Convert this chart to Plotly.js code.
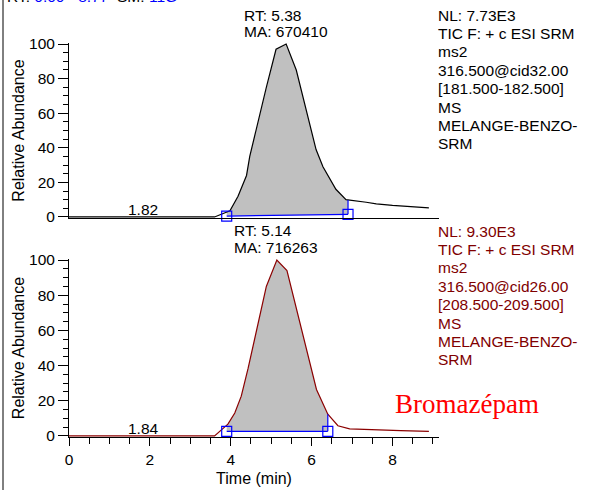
<!DOCTYPE html>
<html>
<head>
<meta charset="utf-8">
<script src="https://cdn.plot.ly/plotly-3.0.1.min.js"></script>
<style>html,body{margin:0;padding:0;background:#fff;}#chart{width:593px;height:490px;}</style>
</head>
<body>
<div id="chart"></div>
<script>
// ---------- data ----------
const timesTop = [0, 3.6, 3.98, 4.18, 4.39, 4.47, 4.88, 5.12, 5.37, 5.62, 6.11, 6.28, 6.6, 6.85, 7.35, 7.6, 8.0, 8.5, 8.9];
const abundTop = [0, 0, 3.6, 12, 24, 35, 75, 97, 100, 85, 39, 29, 16, 10, 8.5, 7.6, 6.7, 6.0, 5.3];
const timesBot = [0, 3.6, 3.93, 4.1, 4.26, 4.43, 4.88, 5.14, 5.39, 5.64, 5.91, 6.12, 6.4, 6.65, 6.94, 7.51, 8.2, 8.9];
const abundBot = [0, 0, 6.7, 13, 22.6, 38.5, 85, 100, 94, 71, 45, 26.4, 12.4, 5.8, 4.0, 3.4, 3.0, 2.6];

const peakBoundsTop = [3.9, 6.9];
const baselineTop = [0.5, 1.5];
const peakBoundsBot = [3.9, 6.4];
const baselineBot = [2.6, 2.6];

const rtTop = 5.38, maTop = 670410, minorRtTop = 1.82;
const rtBot = 5.14, maBot = 716263, minorRtBot = 1.84;

const headerParts = ['RT:', '0.00 - 8.77', 'SM:', '11G'];
const infoTop = ['NL: 7.73E3', 'TIC F: + c ESI SRM', 'ms2', '316.500@cid32.00', '[181.500-182.500]', 'MS', 'MELANGE-BENZO-', 'SRM'];
const infoBot = ['NL: 9.30E3', 'TIC F: + c ESI SRM', 'ms2', '316.500@cid26.00', '[208.500-209.500]', 'MS', 'MELANGE-BENZO-', 'SRM'];
const compoundName = 'Bromazépam';
const xTickVals = [0, 2, 4, 6, 8];
const yTickVals = [0, 20, 40, 60, 80, 100];

// ---------- helpers ----------
const FONT = 'Liberation Sans, Arial, sans-serif';
const L = 69, R = 439, T = 43, B = 437, W = R - L, H = B - T;
const px2x = p => (p - L) / W;
const py2y = p => (B - p) / H;

function interp(xs, ys, x) {
  for (let i = 0; i < xs.length - 1; i++) {
    if (x >= xs[i] && x <= xs[i + 1]) {
      const t = (x - xs[i]) / (xs[i + 1] - xs[i]);
      return ys[i] + t * (ys[i + 1] - ys[i]);
    }
  }
  return ys[ys.length - 1];
}

function peakTraces(xs, ys, bounds, base, xa, ya, lineColor) {
  const [s, e] = bounds;
  const px = [s], py = [interp(xs, ys, s)];
  xs.forEach((x, i) => { if (x > s && x < e) { px.push(x); py.push(ys[i]); } });
  px.push(e); py.push(interp(xs, ys, e));
  px.push(e, s); py.push(base[1], base[0]);
  const endVal = interp(xs, ys, e);
  return [
    {x: px, y: py, xaxis: xa, yaxis: ya, type: 'scatter', mode: 'lines', fill: 'toself',
     fillcolor: '#c0c0c0', line: {width: 0, color: 'rgba(0,0,0,0)'}, hoverinfo: 'skip'},
    {x: xs, y: ys, xaxis: xa, yaxis: ya, type: 'scatter', mode: 'lines',
     line: {color: lineColor, width: 1.2}},
    {x: [s, e], y: base, xaxis: xa, yaxis: ya, type: 'scatter', mode: 'lines',
     line: {color: '#0000ff', width: 1.2}},
    {x: [e, e], y: [base[1], endVal], xaxis: xa, yaxis: ya, type: 'scatter', mode: 'lines',
     line: {color: '#0000ff', width: 1.2}},
    {x: [s, e], y: base, xaxis: xa, yaxis: ya, type: 'scatter', mode: 'markers',
     marker: {symbol: 'square-open', size: 10, color: '#0000ff', line: {width: 1.2, color: '#0000ff'}},
     cliponaxis: false}
  ];
}

const data = [
  ...peakTraces(timesTop, abundTop, peakBoundsTop, baselineTop, 'x2', 'y2', '#000000'),
  ...peakTraces(timesBot, abundBot, peakBoundsBot, baselineBot, 'x', 'y', '#8b0000')
];

// ---------- annotations ----------
const annotations = [];
function textAt(text, px, py, opts) {
  annotations.push(Object.assign({
    text: text, xref: 'paper', yref: 'paper', x: px2x(px), y: py2y(py),
    xanchor: 'left', yanchor: 'middle', showarrow: false, align: 'left',
    font: {family: FONT, size: 15.5, color: '#000'}
  }, opts || {}));
}
infoTop.forEach((t, i) => textAt(t, 436, 15 + i * 18.4));
infoBot.forEach((t, i) => textAt(t, 436, 231 + i * 18.4, {font: {family: FONT, size: 15.5, color: '#800000'}}));
textAt(compoundName, 393, 404, {font: {family: 'Liberation Serif, Times New Roman, serif', size: 27, color: '#ff0000'}});

// header line (mostly cut off at top of the page, as in the reference)
textAt('<span style="color:#000">' + headerParts[0] + '</span> <span style="color:#0000ff">' + headerParts[1] +
       '</span>  <span style="color:#000">' + headerParts[2] + '</span> <span style="color:#0000ff">' + headerParts[3] + '</span>',
       5, -3);

// RT / MA labels
[[rtTop, maTop, 'x2', 15, 32], [rtBot, maBot, 'x', 230, 247]].forEach(([rt, ma, xr, y1, y2]) => {
  annotations.push({text: 'RT: ' + rt.toFixed(2), xref: xr, x: rt, xanchor: 'left', xshift: -45,
    yref: 'paper', y: py2y(y1), yanchor: 'middle', showarrow: false, font: {family: FONT, size: 15.5, color: '#000'}});
  annotations.push({text: 'MA: ' + ma, xref: xr, x: rt, xanchor: 'left', xshift: -45,
    yref: 'paper', y: py2y(y2), yanchor: 'middle', showarrow: false, font: {family: FONT, size: 15.5, color: '#000'}});
});
[[minorRtTop, 'x2', 'y2'], [minorRtBot, 'x', 'y']].forEach(([rt, xr, yr]) => {
  annotations.push({text: rt.toFixed(2), xref: xr, x: rt, xanchor: 'center', yref: yr, y: 0,
    yanchor: 'bottom', yshift: -3, showarrow: false, font: {family: FONT, size: 15.5, color: '#000'}});
});

const yAxisBase = {
  range: [-0.6, 100.6], tickvals: yTickVals, ticks: 'outside', ticklen: 10, tickwidth: 1, tickcolor: '#000',
  showline: true, linecolor: '#000', linewidth: 1, showgrid: false, zeroline: false,
  minor: {dtick: 5, tick0: 0, ticks: 'outside', ticklen: 5, tickcolor: '#000', tickwidth: 1, showgrid: false},
  tickfont: {family: FONT, size: 15.5, color: '#000'},
  title: {text: 'Relative Abundance', font: {family: FONT, size: 16, color: '#000'}, standoff: 0},
  fixedrange: true
};

const layout = {
  width: 593, height: 490,
  margin: {l: L, r: 593 - R, t: T, b: 490 - B, pad: 0},
  paper_bgcolor: '#fff', plot_bgcolor: '#fff',
  showlegend: false,
  xaxis: {
    domain: [0, 1], anchor: 'y', range: [0, 9.15], tickvals: xTickVals,
    ticks: 'outside', ticklen: 8, tickwidth: 1, tickcolor: '#000',
    minor: {dtick: 0.5, tick0: 0, ticks: 'outside', ticklen: 6, tickcolor: '#000', tickwidth: 1, showgrid: false},
    showline: true, linecolor: '#000', linewidth: 1, showgrid: false, zeroline: false,
    tickfont: {family: FONT, size: 15.5, color: '#000'},
    title: {text: 'Time (min)', font: {family: FONT, size: 16, color: '#000'}, standoff: 6}
  },
  xaxis2: {
    domain: [0, 1], anchor: 'y2', matches: 'x', range: [0, 9.15], ticks: '', showticklabels: false,
    showline: true, linecolor: '#000', linewidth: 1, showgrid: false, zeroline: false
  },
  yaxis: Object.assign({}, yAxisBase, {domain: [0, py2y(259)], anchor: 'x'}),
  yaxis2: Object.assign({}, yAxisBase, {domain: [py2y(218), 1], anchor: 'x2'}),
  annotations: annotations,
  shapes: [
    {type: 'line', xref: 'paper', yref: 'paper', x0: px2x(3), x1: px2x(3), y0: py2y(490), y1: py2y(0),
     line: {color: '#000', width: 1}}
  ]
};

Plotly.newPlot('chart', data, layout, {staticPlot: true, displayModeBar: false});
</script>
</body>
</html>
